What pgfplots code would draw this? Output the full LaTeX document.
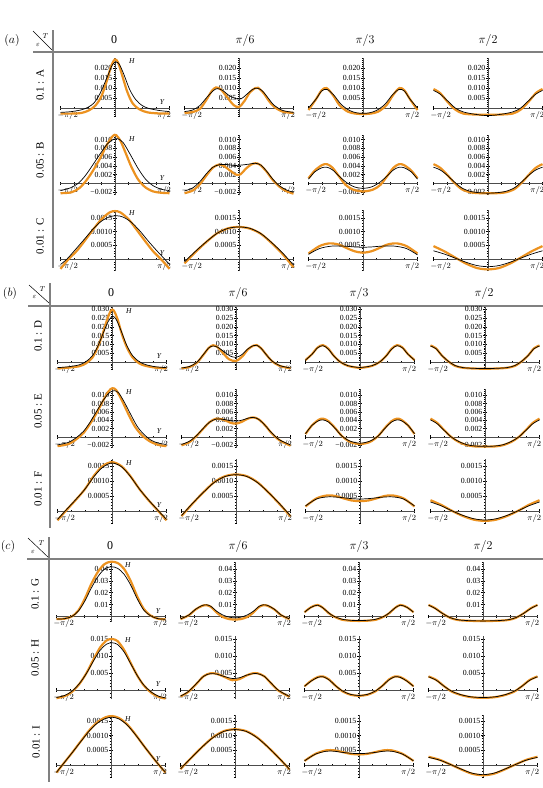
\documentclass[border=0pt]{standalone}
\usepackage{fontspec}
\setmainfont{Liberation Serif}
\usepackage{pgfplots}
\pgfplotsset{compat=1.18}
\definecolor{orng}{RGB}{236,146,32}
\tikzset{
  orc/.style={orng, line width=2.2pt, smooth},
  blc/.style={black, line width=0.7pt, smooth},
}
\pgfplotsset{
  cell/.style={
    axis lines=middle, scale only axis, width=109pt,
    anchor=south west, xshift=-54.5pt,
    xmin=-1, xmax=1, enlargelimits=false, clip=false,
    scaled x ticks=false, scaled y ticks=false,
    axis line style={-, black!70, line width=0.5pt},
    every inner x axis line/.append style={-},
    every inner y axis line/.append style={-},
    xtick={-1,1},
    xticklabels={\makebox[0pt][l]{\hspace{-3pt}$-\pi/2$},\makebox[0pt][r]{$\pi/2$\hspace{-1.5pt}}},
    minor xtick={-0.75,-0.5,-0.25,0.25,0.5,0.75},
    tick align=center, major tick length=3.4pt, minor tick length=2.2pt,
    every major tick/.append style={black, line width=0.45pt},
    every minor tick/.append style={black, line width=0.4pt},
    tick label style={font=\fontsize{7.8}{8}\selectfont, inner sep=0.8pt},
    xticklabel style={inner sep=1.5pt},
  },
  rA/.style={ymin=-0.004, ymax=0.025, height=58pt, yshift=-8pt,
    ytick={0.005,0.010,0.015,0.020}, yticklabels={0.005,0.010,0.015,0.020},
    minor ytick={-0.004,-0.003,...,0.025}},
  rB/.style={ymin=-0.0027, ymax=0.011, height=60.3pt, yshift=-11.9pt,
    ytick={-0.002,0.002,0.004,0.006,0.008,0.010},
    yticklabels={−0.002,0.002,0.004,0.006,0.008,0.010},
    minor ytick={-0.0025,-0.002,...,0.011}},
  rC/.style={ymin=-0.00042, ymax=0.0018, height=60.8pt, yshift=-11.5pt,
    ytick={0.0005,0.0010,0.0015}, yticklabels={0.0005,0.0010,0.0015},
    minor ytick={-0.0004,-0.0003,...,0.0018}},
  rD/.style={ymin=-0.0042, ymax=0.031, height=62pt, yshift=-7.4pt,
    ytick={0.005,0.010,0.015,0.020,0.025,0.030},
    yticklabels={0.005,0.010,0.015,0.020,0.025,0.030},
    minor ytick={-0.004,-0.003,...,0.031}},
  rE/.style={ymin=-0.0026, ymax=0.0116, height=59.2pt, yshift=-10.8pt,
    ytick={-0.002,0.002,0.004,0.006,0.008,0.010},
    yticklabels={−0.002,0.002,0.004,0.006,0.008,0.010},
    minor ytick={-0.0025,-0.002,...,0.0115}},
  rF/.style={ymin=-0.0004, ymax=0.00172, height=63.6pt, yshift=-12pt,
    ytick={0.0005,0.0010,0.0015}, yticklabels={0.0005,0.0010,0.0015},
    minor ytick={-0.0004,-0.0003,...,0.0017}},
  rG/.style={ymin=-0.0042, ymax=0.0462, height=60pt, yshift=-5pt,
    ytick={0.01,0.02,0.03,0.04}, yticklabels={0.01,0.02,0.03,0.04},
    minor ytick={-0.004,-0.002,...,0.046}},
  rH/.style={ymin=-0.0027, ymax=0.0158, height=62.9pt, yshift=-9.2pt,
    ytick={0.005,0.010,0.015}, yticklabels={0.005,0.010,0.015},
    minor ytick={-0.002,-0.001,...,0.015}},
  rI/.style={ymin=-0.0004, ymax=0.0017, height=61.5pt, yshift=-11.7pt,
    ytick={0.0005,0.0010,0.0015}, yticklabels={0.0005,0.0010,0.0015},
    minor ytick={-0.0004,-0.0003,...,0.0017}},
}
% axis names on the T = 0 column
\newcommand{\HY}{%
  \node[font=\fontsize{7.5}{8}\selectfont\itshape, yshift=-3.5pt] at (rel axis cs:0.655,1) {H};
  \node[font=\fontsize{7.5}{8}\selectfont\itshape, yshift=5.5pt] at (axis cs:0.86,0) {Y};}
\newcommand{\hdr}{\fontsize{12}{13}\selectfont}
\newcommand{\rlab}{\fontsize{11}{12}\selectfont}
\newcommand{\pnl}{\fontsize{13}{14}\selectfont}
\newcommand{\sm}{\fontsize{7.5}{8}\selectfont}

\begin{document}
\begin{tikzpicture}
\useasboundingbox (0pt,0pt) rectangle (543pt,-788pt);

\begin{scope}[x=1pt,y=1pt]
% ---- panel (a) frame ----
\node[font=\pnl] at (12,-40) {$(a)$};
\draw[line width=0.5pt] (33,-31) -- (52,-50);
\node[font=\sm] at (45.5,-36) {$T$};
\node[font=\sm] at (38,-44.5) {$\varepsilon$};
\draw[gray, line width=1.1pt] (33,-52) -- (543,-52);
\draw[gray, line width=1.1pt] (53,-30) -- (53,-268);
\node[font=\hdr] at (114,-40) {0};
\node[font=\hdr] at (245,-40) {$\pi/6$};
\node[font=\hdr] at (365,-40) {$\pi/3$};
\node[font=\hdr] at (488,-40) {$\pi/2$};
\node[font=\rlab, rotate=90] at (40,-85) {0.1 : A};
\node[font=\rlab, rotate=90] at (40,-160) {0.05 : B};
\node[font=\rlab, rotate=90] at (40,-236) {0.01 : C};
% ---- panel (b) frame ----
\node[font=\pnl] at (10,-293) {$(b)$};
\draw[line width=0.5pt] (29,-285) -- (49,-303);
\node[font=\sm] at (42.5,-289) {$T$};
\node[font=\sm] at (34.5,-297) {$\varepsilon$};
\draw[gray, line width=1.1pt] (28,-306) -- (543,-306);
\draw[gray, line width=1.1pt] (50,-283) -- (50,-528);
\node[font=\hdr] at (111,-293) {0};
\node[font=\hdr] at (238,-293) {$\pi/6$};
\node[font=\hdr] at (359,-293) {$\pi/3$};
\node[font=\hdr] at (484,-293) {$\pi/2$};
\node[font=\rlab, rotate=90] at (38,-336) {0.1 : D};
\node[font=\rlab, rotate=90] at (38,-411) {0.05 : E};
\node[font=\rlab, rotate=90] at (38,-489) {0.01 : F};
% ---- panel (c) frame ----
\node[font=\pnl] at (8,-546) {$(c)$};
\draw[line width=0.5pt] (28,-538) -- (49,-558);
\node[font=\sm] at (41.5,-543) {$T$};
\node[font=\sm] at (33,-552) {$\varepsilon$};
\draw[gray, line width=1.1pt] (27,-559) -- (543,-559);
\draw[gray, line width=1.1pt] (49,-537) -- (49,-782);
\node[font=\hdr] at (110,-546) {0};
\node[font=\hdr] at (238,-546) {$\pi/6$};
\node[font=\hdr] at (359,-546) {$\pi/3$};
\node[font=\hdr] at (483,-546) {$\pi/2$};
\node[font=\rlab, rotate=90] at (35,-594) {0.1 : G};
\node[font=\rlab, rotate=90] at (35,-658) {0.05 : H};
\node[font=\rlab, rotate=90] at (36,-742) {0.01 : I};
\end{scope}

%================ panel (a) ================
% row A
\begin{axis}[cell, rA, at={(115pt,-108pt)}]
\addplot[orc] coordinates {(-1,-0.0028) (-0.8,-0.0028) (-0.62,-0.0025) (-0.48,-0.0012) (-0.36,0.0012) (-0.25,0.0058) (-0.15,0.0135) (-0.07,0.0210) (0,0.0243) (0.06,0.0225) (0.13,0.0165) (0.22,0.0085) (0.32,0.0025) (0.45,-0.0007) (0.6,-0.0022) (0.8,-0.0027) (1,-0.0028)};
\addplot[blc] coordinates {(-1,-0.0022) (-0.8,-0.0018) (-0.6,-0.0008) (-0.48,0.0006) (-0.38,0.0027) (-0.27,0.0075) (-0.15,0.0150) (-0.05,0.0215) (0.02,0.0230) (0.08,0.0218) (0.16,0.0170) (0.27,0.0092) (0.38,0.0042) (0.5,0.0012) (0.62,-0.0002) (0.8,-0.0012) (1,-0.0018)};
\HY
\end{axis}
\begin{axis}[cell, rA, at={(239pt,-108pt)}]
\addplot[orc] coordinates {(-1,-0.0025) (-0.85,-0.0020) (-0.72,-0.0005) (-0.6,0.0040) (-0.5,0.0085) (-0.42,0.0103) (-0.33,0.0092) (-0.22,0.0055) (-0.1,0.0015) (0,0.0005) (0.1,0.0035) (0.2,0.0078) (0.3,0.0100) (0.35,0.0101) (0.45,0.0075) (0.55,0.0035) (0.65,0.0005) (0.8,-0.0018) (1,-0.0025)};
\addplot[blc] coordinates {(-1,-0.0018) (-0.85,-0.0010) (-0.72,0.0012) (-0.6,0.0050) (-0.48,0.0085) (-0.4,0.0097) (-0.3,0.0088) (-0.18,0.0062) (-0.06,0.0047) (0.04,0.0046) (0.14,0.0068) (0.25,0.0093) (0.33,0.0099) (0.42,0.0088) (0.52,0.0055) (0.64,0.0015) (0.8,-0.0012) (1,-0.0022)};
\end{axis}
\begin{axis}[cell, rA, at={(363pt,-108pt)}]
\addplot[orc] coordinates {(-1,-0.0010) (-0.86,0.0045) (-0.76,0.0088) (-0.67,0.0100) (-0.55,0.0064) (-0.43,0.0014) (-0.28,-0.0018) (-0.14,-0.0028) (0,-0.0030) (0.14,-0.0028) (0.28,-0.0018) (0.43,0.0014) (0.55,0.0064) (0.67,0.0100) (0.76,0.0088) (0.86,0.0045) (1,-0.0010)};
\addplot[blc] coordinates {(-1,0.0000) (-0.86,0.0045) (-0.76,0.0085) (-0.66,0.0093) (-0.54,0.0066) (-0.4,0.0018) (-0.25,-0.0012) (-0.12,-0.0024) (0,-0.0027) (0.12,-0.0024) (0.25,-0.0012) (0.4,0.0018) (0.54,0.0066) (0.66,0.0093) (0.76,0.0085) (0.86,0.0045) (1,0.0000)};
\end{axis}
\begin{axis}[cell, rA, at={(488pt,-108pt)}]
\addplot[orc] coordinates {(-1,0.0095) (-0.88,0.0075) (-0.75,0.0033) (-0.6,-0.0008) (-0.45,-0.0028) (-0.2,-0.0033) (0,-0.0033) (0.2,-0.0033) (0.45,-0.0028) (0.6,-0.0008) (0.75,0.0033) (0.88,0.0075) (1,0.0095)};
\addplot[blc] coordinates {(-1,0.0088) (-0.88,0.0070) (-0.75,0.0038) (-0.6,0.0000) (-0.45,-0.0020) (-0.2,-0.0033) (0,-0.0038) (0.2,-0.0033) (0.45,-0.0020) (0.6,0.0000) (0.75,0.0038) (0.88,0.0070) (1,0.0088)};
\end{axis}

% row B
\begin{axis}[cell, rB, at={(115pt,-183.5pt)}]
\addplot[orc] coordinates {(-1,-0.0022) (-0.8,-0.0020) (-0.65,-0.0010) (-0.52,0.0008) (-0.4,0.0030) (-0.27,0.0058) (-0.14,0.0090) (-0.04,0.0108) (0.02,0.0110) (0.1,0.0097) (0.2,0.0068) (0.3,0.0038) (0.42,0.0010) (0.55,-0.0008) (0.7,-0.0018) (0.85,-0.0021) (1,-0.0022)};
\addplot[blc] coordinates {(-1,-0.0016) (-0.82,-0.0010) (-0.68,0.0000) (-0.55,0.0017) (-0.42,0.0040) (-0.28,0.0066) (-0.14,0.0090) (-0.02,0.0101) (0.05,0.0102) (0.15,0.0093) (0.28,0.0066) (0.42,0.0035) (0.56,0.0010) (0.7,-0.0005) (0.85,-0.0013) (1,-0.0016)};
\HY
\end{axis}
\begin{axis}[cell, rB, at={(239pt,-183.5pt)}]
\addplot[orc] coordinates {(-1,-0.0022) (-0.85,-0.0016) (-0.72,-0.0002) (-0.6,0.0018) (-0.48,0.0036) (-0.37,0.0043) (-0.28,0.0040) (-0.17,0.0030) (-0.05,0.0020) (0.03,0.0021) (0.12,0.0033) (0.22,0.0043) (0.3,0.0046) (0.38,0.0043) (0.5,0.0028) (0.62,0.0008) (0.75,-0.0008) (0.88,-0.0018) (1,-0.0023)};
\addplot[blc] coordinates {(-1,-0.0017) (-0.85,-0.0010) (-0.72,0.0004) (-0.6,0.0022) (-0.48,0.0037) (-0.35,0.0043) (-0.22,0.0043) (-0.08,0.0041) (0.05,0.0042) (0.18,0.0044) (0.3,0.0046) (0.4,0.0042) (0.5,0.0029) (0.62,0.0010) (0.75,-0.0006) (0.88,-0.0015) (1,-0.0020)};
\end{axis}
\begin{axis}[cell, rB, at={(363pt,-183.5pt)}]
\addplot[orc] coordinates {(-1,0.0012) (-0.88,0.0030) (-0.75,0.0042) (-0.66,0.0044) (-0.56,0.0036) (-0.45,0.0018) (-0.32,-0.0003) (-0.18,-0.0014) (0,-0.0018) (0.18,-0.0014) (0.32,-0.0003) (0.45,0.0018) (0.56,0.0036) (0.66,0.0044) (0.75,0.0042) (0.88,0.0030) (1,0.0012)};
\addplot[blc] coordinates {(-1,0.0010) (-0.88,0.0027) (-0.75,0.0036) (-0.66,0.0037) (-0.56,0.0031) (-0.44,0.0017) (-0.3,0.0002) (-0.15,-0.0008) (0,-0.0011) (0.15,-0.0008) (0.3,0.0002) (0.44,0.0017) (0.56,0.0031) (0.66,0.0037) (0.75,0.0036) (0.88,0.0027) (1,0.0010)};
\end{axis}
\begin{axis}[cell, rB, at={(488pt,-183.5pt)}]
\addplot[orc] coordinates {(-1,0.0044) (-0.88,0.0036) (-0.75,0.0020) (-0.62,0.0002) (-0.48,-0.0013) (-0.32,-0.0020) (-0.15,-0.0022) (0,-0.0022) (0.15,-0.0022) (0.32,-0.0020) (0.48,-0.0013) (0.62,0.0002) (0.75,0.0020) (0.88,0.0036) (1,0.0044)};
\addplot[blc] coordinates {(-1,0.0037) (-0.88,0.0031) (-0.75,0.0019) (-0.62,0.0004) (-0.48,-0.0010) (-0.32,-0.0018) (-0.15,-0.0021) (0,-0.0022) (0.15,-0.0021) (0.32,-0.0018) (0.48,-0.0010) (0.62,0.0004) (0.75,0.0019) (0.88,0.0031) (1,0.0037)};
\end{axis}

% row C
\begin{axis}[cell, rC, at={(115pt,-259pt)}]
\addplot[orc] coordinates {(-1,-0.00036) (-0.85,0.00000) (-0.7,0.00030) (-0.55,0.00068) (-0.4,0.00108) (-0.25,0.00145) (-0.1,0.00170) (0,0.00175) (0.1,0.00170) (0.25,0.00145) (0.4,0.00106) (0.55,0.00066) (0.7,0.00028) (0.85,-0.00002) (1,-0.00036)};
\addplot[blc] coordinates {(-1,-0.00020) (-0.88,0.00000) (-0.72,0.00036) (-0.55,0.00075) (-0.4,0.00110) (-0.25,0.00138) (-0.1,0.00154) (0.03,0.00158) (0.15,0.00153) (0.3,0.00134) (0.45,0.00104) (0.6,0.00068) (0.75,0.00034) (0.9,0.00002) (1,-0.00020)};
\HY
\end{axis}
\begin{axis}[cell, rC, at={(239pt,-259pt)}]
\addplot[orc] coordinates {(-1,-0.00016) (-0.8,0.00025) (-0.6,0.00062) (-0.4,0.00094) (-0.2,0.00112) (0,0.00117) (0.2,0.00111) (0.4,0.00092) (0.6,0.00058) (0.8,0.00018) (1,-0.00030)};
\addplot[blc] coordinates {(-1,-0.00010) (-0.8,0.00028) (-0.6,0.00063) (-0.4,0.00094) (-0.2,0.00112) (0,0.00117) (0.2,0.00112) (0.4,0.00093) (0.6,0.00060) (0.8,0.00022) (1,-0.00022)};
\end{axis}
\begin{axis}[cell, rC, at={(363pt,-259pt)}]
\addplot[orc] coordinates {(-1,0.00020) (-0.8,0.00047) (-0.62,0.00057) (-0.45,0.00053) (-0.3,0.00040) (-0.15,0.00028) (0,0.00023) (0.15,0.00028) (0.3,0.00040) (0.45,0.00053) (0.62,0.00057) (0.8,0.00047) (1,0.00020)};
\addplot[blc] coordinates {(-1,0.00017) (-0.8,0.00038) (-0.58,0.00047) (-0.35,0.00047) (-0.15,0.00044) (0,0.00043) (0.15,0.00044) (0.35,0.00047) (0.58,0.00047) (0.8,0.00038) (1,0.00015)};
\end{axis}
\begin{axis}[cell, rC, at={(488pt,-259pt)}]
\addplot[orc] coordinates {(-1,0.00047) (-0.8,0.00028) (-0.6,0.00005) (-0.4,-0.00017) (-0.2,-0.00033) (0,-0.00038) (0.2,-0.00033) (0.4,-0.00017) (0.6,0.00005) (0.8,0.00028) (1,0.00047)};
\addplot[blc] coordinates {(-1,0.00030) (-0.8,0.00018) (-0.6,0.00003) (-0.4,-0.00012) (-0.2,-0.00024) (0,-0.00028) (0.2,-0.00024) (0.4,-0.00012) (0.6,0.00003) (0.8,0.00018) (1,0.00030)};
\end{axis}

%================ panel (b) ================
% row D
\begin{axis}[cell, rD, at={(112pt,-362pt)}]
\addplot[orc] coordinates {(-1,-0.0036) (-0.8,-0.0032) (-0.6,-0.0024) (-0.48,-0.0008) (-0.36,0.0025) (-0.26,0.0085) (-0.17,0.0160) (-0.09,0.0240) (-0.02,0.0292) (0.03,0.0293) (0.1,0.0245) (0.18,0.0160) (0.27,0.0085) (0.38,0.0025) (0.5,-0.0008) (0.62,-0.0022) (0.8,-0.0032) (1,-0.0036)};
\addplot[blc] coordinates {(-1,-0.0032) (-0.8,-0.0027) (-0.6,-0.0016) (-0.48,0.0002) (-0.36,0.0035) (-0.26,0.0090) (-0.16,0.0165) (-0.07,0.0230) (0.01,0.0260) (0.08,0.0240) (0.17,0.0175) (0.27,0.0095) (0.38,0.0035) (0.5,0.0002) (0.62,-0.0015) (0.8,-0.0027) (1,-0.0032)};
\HY
\end{axis}
\begin{axis}[cell, rD, at={(236pt,-362pt)}]
\addplot[orc] coordinates {(-1,-0.0036) (-0.85,-0.0028) (-0.72,-0.0005) (-0.6,0.0040) (-0.5,0.0080) (-0.42,0.0095) (-0.34,0.0085) (-0.25,0.0055) (-0.13,0.0016) (0,0.0006) (0.12,0.0033) (0.22,0.0072) (0.32,0.0093) (0.38,0.0096) (0.46,0.0078) (0.56,0.0040) (0.66,0.0005) (0.8,-0.0022) (1,-0.0036)};
\addplot[blc] coordinates {(-1,-0.0034) (-0.85,-0.0025) (-0.72,-0.0002) (-0.6,0.0042) (-0.5,0.0080) (-0.42,0.0091) (-0.33,0.0083) (-0.22,0.0058) (-0.1,0.0033) (0,0.0027) (0.1,0.0040) (0.22,0.0075) (0.32,0.0093) (0.38,0.0095) (0.46,0.0078) (0.56,0.0040) (0.66,0.0006) (0.8,-0.0020) (1,-0.0034)};
\end{axis}
\begin{axis}[cell, rD, at={(360pt,-362pt)}]
\addplot[orc] coordinates {(-1,0.0011) (-0.88,0.0045) (-0.78,0.0082) (-0.68,0.0096) (-0.58,0.0075) (-0.48,0.0035) (-0.36,0.0000) (-0.22,-0.0022) (0,-0.0033) (0.22,-0.0022) (0.36,0.0000) (0.48,0.0035) (0.58,0.0075) (0.68,0.0096) (0.78,0.0082) (0.88,0.0045) (1,0.0011)};
\addplot[blc] coordinates {(-1,0.0011) (-0.88,0.0044) (-0.78,0.0080) (-0.68,0.0093) (-0.58,0.0073) (-0.48,0.0034) (-0.36,0.0000) (-0.22,-0.0021) (0,-0.0031) (0.22,-0.0021) (0.36,0.0000) (0.48,0.0034) (0.58,0.0073) (0.68,0.0093) (0.78,0.0080) (0.88,0.0044) (1,0.0011)};
\end{axis}
\begin{axis}[cell, rD, at={(485pt,-362pt)}]
\addplot[orc] coordinates {(-1,0.0094) (-0.9,0.0078) (-0.8,0.0040) (-0.68,0.0005) (-0.55,-0.0022) (-0.4,-0.0033) (-0.2,-0.0037) (0,-0.0038) (0.2,-0.0037) (0.4,-0.0033) (0.55,-0.0022) (0.68,0.0005) (0.8,0.0040) (0.9,0.0078) (1,0.0094)};
\addplot[blc] coordinates {(-1,0.0091) (-0.9,0.0076) (-0.8,0.0040) (-0.68,0.0006) (-0.55,-0.0020) (-0.4,-0.0032) (-0.2,-0.0036) (0,-0.0037) (0.2,-0.0036) (0.4,-0.0032) (0.55,-0.0020) (0.68,0.0006) (0.8,0.0040) (0.9,0.0076) (1,0.0091)};
\end{axis}

% row E
\begin{axis}[cell, rE, at={(112pt,-437pt)}]
\addplot[orc] coordinates {(-1,-0.0022) (-0.8,-0.0017) (-0.65,-0.0005) (-0.52,0.0010) (-0.4,0.0032) (-0.28,0.0058) (-0.16,0.0088) (-0.06,0.0110) (0.01,0.0117) (0.08,0.0112) (0.18,0.0088) (0.3,0.0055) (0.42,0.0025) (0.55,0.0004) (0.7,-0.0011) (0.85,-0.0019) (1,-0.0022)};
\addplot[blc] coordinates {(-1,-0.0019) (-0.8,-0.0013) (-0.65,-0.0001) (-0.52,0.0014) (-0.4,0.0036) (-0.28,0.0062) (-0.16,0.0088) (-0.05,0.0106) (0.04,0.0111) (0.12,0.0106) (0.22,0.0085) (0.34,0.0055) (0.46,0.0026) (0.58,0.0007) (0.72,-0.0008) (0.86,-0.0015) (1,-0.0018)};
\HY
\end{axis}
\begin{axis}[cell, rE, at={(236pt,-437pt)}]
\addplot[orc] coordinates {(-1,-0.0020) (-0.85,-0.0012) (-0.72,0.0003) (-0.6,0.0020) (-0.48,0.0036) (-0.36,0.0044) (-0.22,0.0041) (-0.1,0.0034) (0,0.0032) (0.1,0.0036) (0.22,0.0044) (0.32,0.0047) (0.42,0.0042) (0.54,0.0027) (0.66,0.0008) (0.8,-0.0008) (1,-0.0021)};
\addplot[blc] coordinates {(-1,-0.0018) (-0.85,-0.0010) (-0.72,0.0004) (-0.6,0.0021) (-0.48,0.0036) (-0.36,0.0043) (-0.22,0.0042) (-0.1,0.0039) (0,0.0038) (0.1,0.0040) (0.22,0.0045) (0.32,0.0047) (0.42,0.0042) (0.54,0.0027) (0.66,0.0009) (0.8,-0.0007) (1,-0.0019)};
\end{axis}
\begin{axis}[cell, rE, at={(360pt,-437pt)}]
\addplot[orc] coordinates {(-1,0.0007) (-0.88,0.0028) (-0.76,0.0041) (-0.68,0.0044) (-0.58,0.0038) (-0.46,0.0022) (-0.33,0.0002) (-0.18,-0.0012) (0,-0.0017) (0.18,-0.0012) (0.33,0.0002) (0.46,0.0022) (0.58,0.0038) (0.68,0.0044) (0.76,0.0041) (0.88,0.0028) (1,0.0007)};
\addplot[blc] coordinates {(-1,0.0008) (-0.88,0.0028) (-0.76,0.0039) (-0.68,0.0041) (-0.58,0.0036) (-0.46,0.0021) (-0.33,0.0002) (-0.18,-0.0010) (0,-0.0015) (0.18,-0.0010) (0.33,0.0002) (0.46,0.0021) (0.58,0.0036) (0.68,0.0041) (0.76,0.0039) (0.88,0.0028) (1,0.0008)};
\end{axis}
\begin{axis}[cell, rE, at={(485pt,-437pt)}]
\addplot[orc] coordinates {(-1,0.0044) (-0.88,0.0034) (-0.76,0.0018) (-0.62,0.0000) (-0.48,-0.0012) (-0.32,-0.0020) (-0.15,-0.0023) (0,-0.0023) (0.15,-0.0023) (0.32,-0.0020) (0.48,-0.0012) (0.62,0.0000) (0.76,0.0018) (0.88,0.0034) (1,0.0044)};
\addplot[blc] coordinates {(-1,0.0041) (-0.88,0.0032) (-0.76,0.0017) (-0.62,0.0000) (-0.48,-0.0011) (-0.32,-0.0019) (-0.15,-0.0022) (0,-0.0022) (0.15,-0.0022) (0.32,-0.0019) (0.48,-0.0011) (0.62,0.0000) (0.76,0.0017) (0.88,0.0032) (1,0.0041)};
\end{axis}

% row F
\begin{axis}[cell, rF, at={(112pt,-511pt)}]
\addplot[orc] coordinates {(-1,-0.00031) (-0.83,0.00004) (-0.66,0.00038) (-0.5,0.00072) (-0.33,0.00118) (-0.17,0.00150) (0,0.00163) (0.17,0.00150) (0.33,0.00118) (0.5,0.00074) (0.66,0.00038) (0.83,0.00004) (1,-0.00031)};
\addplot[blc] coordinates {(-1,-0.00028) (-0.83,0.00006) (-0.66,0.00039) (-0.5,0.00072) (-0.33,0.00115) (-0.17,0.00146) (0,0.00160) (0.17,0.00148) (0.33,0.00117) (0.5,0.00074) (0.66,0.00039) (0.83,0.00005) (1,-0.00028)};
\HY
\end{axis}
\begin{axis}[cell, rF, at={(236pt,-511pt)}]
\addplot[orc] coordinates {(-1,-0.00017) (-0.8,0.00024) (-0.6,0.00062) (-0.4,0.00096) (-0.2,0.00116) (0,0.00122) (0.2,0.00116) (0.4,0.00095) (0.6,0.00061) (0.8,0.00023) (1,-0.00018)};
\addplot[blc] coordinates {(-1,-0.00015) (-0.8,0.00025) (-0.6,0.00062) (-0.4,0.00095) (-0.2,0.00115) (0,0.00121) (0.2,0.00115) (0.4,0.00094) (0.6,0.00061) (0.8,0.00024) (1,-0.00016)};
\end{axis}
\begin{axis}[cell, rF, at={(360pt,-511pt)}]
\addplot[orc] coordinates {(-1,0.00015) (-0.8,0.00042) (-0.6,0.00052) (-0.45,0.00050) (-0.3,0.00042) (-0.15,0.00035) (0,0.00033) (0.15,0.00035) (0.3,0.00042) (0.45,0.00050) (0.6,0.00052) (0.8,0.00042) (1,0.00015)};
\addplot[blc] coordinates {(-1,0.00017) (-0.8,0.00040) (-0.6,0.00047) (-0.4,0.00046) (-0.2,0.00042) (0,0.00040) (0.2,0.00042) (0.4,0.00046) (0.6,0.00047) (0.8,0.00040) (1,0.00017)};
\end{axis}
\begin{axis}[cell, rF, at={(485pt,-511pt)}]
\addplot[orc] coordinates {(-1,0.00036) (-0.8,0.00020) (-0.6,0.00000) (-0.4,-0.00017) (-0.2,-0.00029) (0,-0.00033) (0.2,-0.00029) (0.4,-0.00017) (0.6,0.00000) (0.8,0.00020) (1,0.00036)};
\addplot[blc] coordinates {(-1,0.00030) (-0.8,0.00017) (-0.6,0.00000) (-0.4,-0.00015) (-0.2,-0.00026) (0,-0.00030) (0.2,-0.00026) (0.4,-0.00015) (0.6,0.00000) (0.8,0.00017) (1,0.00030)};
\end{axis}

%================ panel (c) ================
% row G
\begin{axis}[cell, rG, at={(111pt,-616.5pt)}]
\addplot[orc] coordinates {(-1,-0.0022) (-0.85,-0.0018) (-0.72,0.0000) (-0.6,0.0050) (-0.48,0.0150) (-0.36,0.0275) (-0.24,0.0375) (-0.12,0.0440) (0,0.0460) (0.12,0.0450) (0.24,0.0400) (0.36,0.0300) (0.48,0.0170) (0.6,0.0065) (0.72,0.0010) (0.85,-0.0017) (1,-0.0024)};
\addplot[blc] coordinates {(-1,-0.0022) (-0.85,-0.0018) (-0.72,0.0000) (-0.6,0.0045) (-0.48,0.0130) (-0.36,0.0240) (-0.24,0.0335) (-0.12,0.0398) (0,0.0418) (0.12,0.0405) (0.24,0.0355) (0.36,0.0265) (0.48,0.0150) (0.6,0.0055) (0.72,0.0008) (0.85,-0.0017) (1,-0.0023)};
\HY
\end{axis}
\begin{axis}[cell, rG, at={(235pt,-616.5pt)}]
\addplot[orc] coordinates {(-1,-0.0022) (-0.85,0.0010) (-0.72,0.0060) (-0.6,0.0090) (-0.52,0.0095) (-0.44,0.0080) (-0.34,0.0035) (-0.22,-0.0005) (-0.1,-0.0022) (0,-0.0025) (0.1,-0.0022) (0.22,-0.0005) (0.34,0.0035) (0.44,0.0080) (0.52,0.0095) (0.6,0.0090) (0.72,0.0060) (0.85,0.0010) (1,-0.0022)};
\addplot[blc] coordinates {(-1,-0.0020) (-0.85,0.0012) (-0.72,0.0062) (-0.6,0.0093) (-0.52,0.0098) (-0.44,0.0085) (-0.34,0.0045) (-0.22,0.0012) (-0.1,-0.0006) (0,-0.0011) (0.1,-0.0006) (0.22,0.0012) (0.34,0.0045) (0.44,0.0085) (0.52,0.0098) (0.6,0.0093) (0.72,0.0062) (0.85,0.0012) (1,-0.0020)};
\end{axis}
\begin{axis}[cell, rG, at={(359pt,-616.5pt)}]
\addplot[orc] coordinates {(-1,0.0036) (-0.88,0.0078) (-0.76,0.0097) (-0.66,0.0072) (-0.56,0.0030) (-0.46,0.0000) (-0.32,-0.0026) (-0.16,-0.0035) (0,-0.0037) (0.16,-0.0035) (0.32,-0.0026) (0.46,0.0000) (0.56,0.0030) (0.66,0.0072) (0.76,0.0097) (0.88,0.0078) (1,0.0036)};
\addplot[blc] coordinates {(-1,0.0036) (-0.88,0.0077) (-0.76,0.0095) (-0.66,0.0072) (-0.56,0.0032) (-0.46,0.0002) (-0.32,-0.0022) (-0.16,-0.0032) (0,-0.0034) (0.16,-0.0032) (0.32,-0.0022) (0.46,0.0002) (0.56,0.0032) (0.66,0.0072) (0.76,0.0095) (0.88,0.0077) (1,0.0036)};
\end{axis}
\begin{axis}[cell, rG, at={(483pt,-616.5pt)}]
\addplot[orc] coordinates {(-1,0.0097) (-0.88,0.0070) (-0.74,0.0025) (-0.6,-0.0012) (-0.45,-0.0030) (-0.25,-0.0036) (0,-0.0038) (0.25,-0.0036) (0.45,-0.0030) (0.6,-0.0012) (0.74,0.0025) (0.88,0.0070) (1,0.0097)};
\addplot[blc] coordinates {(-1,0.0096) (-0.88,0.0068) (-0.74,0.0025) (-0.6,-0.0010) (-0.45,-0.0028) (-0.25,-0.0035) (0,-0.0037) (0.25,-0.0035) (0.45,-0.0028) (0.6,-0.0010) (0.74,0.0025) (0.88,0.0068) (1,0.0096)};
\end{axis}

% row H
\begin{axis}[cell, rH, at={(111pt,-690pt)}]
\addplot[orc] coordinates {(-1,-0.0024) (-0.85,-0.0018) (-0.72,-0.0006) (-0.58,0.0018) (-0.45,0.0050) (-0.32,0.0090) (-0.2,0.0125) (-0.08,0.0146) (0.02,0.0150) (0.12,0.0144) (0.24,0.0118) (0.36,0.0080) (0.48,0.0043) (0.6,0.0014) (0.74,-0.0008) (0.87,-0.0020) (1,-0.0025)};
\addplot[blc] coordinates {(-1,-0.0022) (-0.85,-0.0016) (-0.72,-0.0004) (-0.58,0.0019) (-0.45,0.0049) (-0.32,0.0086) (-0.2,0.0117) (-0.08,0.0135) (0.02,0.0139) (0.12,0.0134) (0.24,0.0112) (0.36,0.0078) (0.48,0.0043) (0.6,0.0015) (0.74,-0.0006) (0.87,-0.0018) (1,-0.0023)};
\HY
\end{axis}
\begin{axis}[cell, rH, at={(235pt,-690pt)}]
\addplot[orc] coordinates {(-1,-0.0019) (-0.86,-0.0006) (-0.72,0.0016) (-0.58,0.0040) (-0.46,0.0049) (-0.34,0.0048) (-0.2,0.0039) (-0.05,0.0029) (0.08,0.0032) (0.2,0.0042) (0.32,0.0049) (0.42,0.0049) (0.54,0.0040) (0.66,0.0020) (0.8,-0.0002) (1,-0.0020)};
\addplot[blc] coordinates {(-1,-0.0018) (-0.86,-0.0005) (-0.72,0.0017) (-0.58,0.0040) (-0.46,0.0048) (-0.34,0.0047) (-0.2,0.0040) (-0.05,0.0034) (0.08,0.0036) (0.2,0.0043) (0.32,0.0048) (0.42,0.0048) (0.54,0.0040) (0.66,0.0021) (0.8,-0.0001) (1,-0.0019)};
\end{axis}
\begin{axis}[cell, rH, at={(359pt,-690pt)}]
\addplot[orc] coordinates {(-1,0.0011) (-0.88,0.0027) (-0.76,0.0038) (-0.66,0.0040) (-0.55,0.0031) (-0.44,0.0014) (-0.3,-0.0004) (-0.15,-0.0014) (0,-0.0017) (0.15,-0.0014) (0.3,-0.0004) (0.44,0.0014) (0.55,0.0031) (0.66,0.0040) (0.76,0.0038) (0.88,0.0027) (1,0.0011)};
\addplot[blc] coordinates {(-1,0.0011) (-0.88,0.0026) (-0.76,0.0037) (-0.66,0.0039) (-0.55,0.0030) (-0.44,0.0014) (-0.3,-0.0003) (-0.15,-0.0013) (0,-0.0016) (0.15,-0.0013) (0.3,-0.0003) (0.44,0.0014) (0.55,0.0030) (0.66,0.0039) (0.76,0.0037) (0.88,0.0026) (1,0.0011)};
\end{axis}
\begin{axis}[cell, rH, at={(483pt,-690pt)}]
\addplot[orc] coordinates {(-1,0.0040) (-0.86,0.0030) (-0.72,0.0012) (-0.58,-0.0004) (-0.42,-0.0014) (-0.22,-0.0021) (0,-0.0023) (0.22,-0.0021) (0.42,-0.0014) (0.58,-0.0004) (0.72,0.0012) (0.86,0.0030) (1,0.0040)};
\addplot[blc] coordinates {(-1,0.0039) (-0.86,0.0029) (-0.72,0.0012) (-0.58,-0.0003) (-0.42,-0.0013) (-0.22,-0.0020) (0,-0.0022) (0.22,-0.0020) (0.42,-0.0013) (0.58,-0.0003) (0.72,0.0012) (0.86,0.0029) (1,0.0039)};
\end{axis}

% row I
\begin{axis}[cell, rI, at={(111pt,-765pt)}]
\addplot[orc] coordinates {(-1,-0.00026) (-0.85,0.00010) (-0.7,0.00045) (-0.55,0.00082) (-0.4,0.00118) (-0.25,0.00146) (-0.1,0.00163) (0.02,0.00167) (0.15,0.00160) (0.3,0.00138) (0.45,0.00104) (0.6,0.00066) (0.75,0.00030) (0.88,0.00000) (1,-0.00026)};
\addplot[blc] coordinates {(-1,-0.00025) (-0.85,0.00010) (-0.7,0.00045) (-0.55,0.00081) (-0.4,0.00116) (-0.25,0.00143) (-0.1,0.00159) (0.02,0.00163) (0.15,0.00157) (0.3,0.00136) (0.45,0.00103) (0.6,0.00066) (0.75,0.00030) (0.88,0.00000) (1,-0.00025)};
\HY
\end{axis}
\begin{axis}[cell, rI, at={(235pt,-765pt)}]
\addplot[orc] coordinates {(-1,-0.00014) (-0.8,0.00025) (-0.6,0.00062) (-0.4,0.00095) (-0.2,0.00116) (0,0.00122) (0.2,0.00116) (0.4,0.00095) (0.6,0.00062) (0.8,0.00025) (1,-0.00015)};
\addplot[blc] coordinates {(-1,-0.00013) (-0.8,0.00025) (-0.6,0.00062) (-0.4,0.00094) (-0.2,0.00115) (0,0.00121) (0.2,0.00115) (0.4,0.00094) (0.6,0.00062) (0.8,0.00025) (1,-0.00014)};
\end{axis}
\begin{axis}[cell, rI, at={(359pt,-765pt)}]
\addplot[orc] coordinates {(-1,0.00014) (-0.8,0.00038) (-0.6,0.00050) (-0.45,0.00050) (-0.3,0.00044) (-0.15,0.00038) (0,0.00036) (0.15,0.00038) (0.3,0.00044) (0.45,0.00050) (0.6,0.00050) (0.8,0.00038) (1,0.00014)};
\addplot[blc] coordinates {(-1,0.00014) (-0.8,0.00037) (-0.6,0.00047) (-0.45,0.00047) (-0.3,0.00043) (-0.15,0.00040) (0,0.00039) (0.15,0.00040) (0.3,0.00043) (0.45,0.00047) (0.6,0.00047) (0.8,0.00037) (1,0.00014)};
\end{axis}
\begin{axis}[cell, rI, at={(483pt,-765pt)}]
\addplot[orc] coordinates {(-1,0.00028) (-0.8,0.00018) (-0.6,0.00002) (-0.4,-0.00015) (-0.2,-0.00030) (0,-0.00035) (0.2,-0.00030) (0.4,-0.00015) (0.6,0.00002) (0.8,0.00018) (1,0.00028)};
\addplot[blc] coordinates {(-1,0.00026) (-0.8,0.00017) (-0.6,0.00002) (-0.4,-0.00014) (-0.2,-0.00028) (0,-0.00033) (0.2,-0.00028) (0.4,-0.00014) (0.6,0.00002) (0.8,0.00017) (1,0.00026)};
\end{axis}

\end{tikzpicture}
\end{document}
